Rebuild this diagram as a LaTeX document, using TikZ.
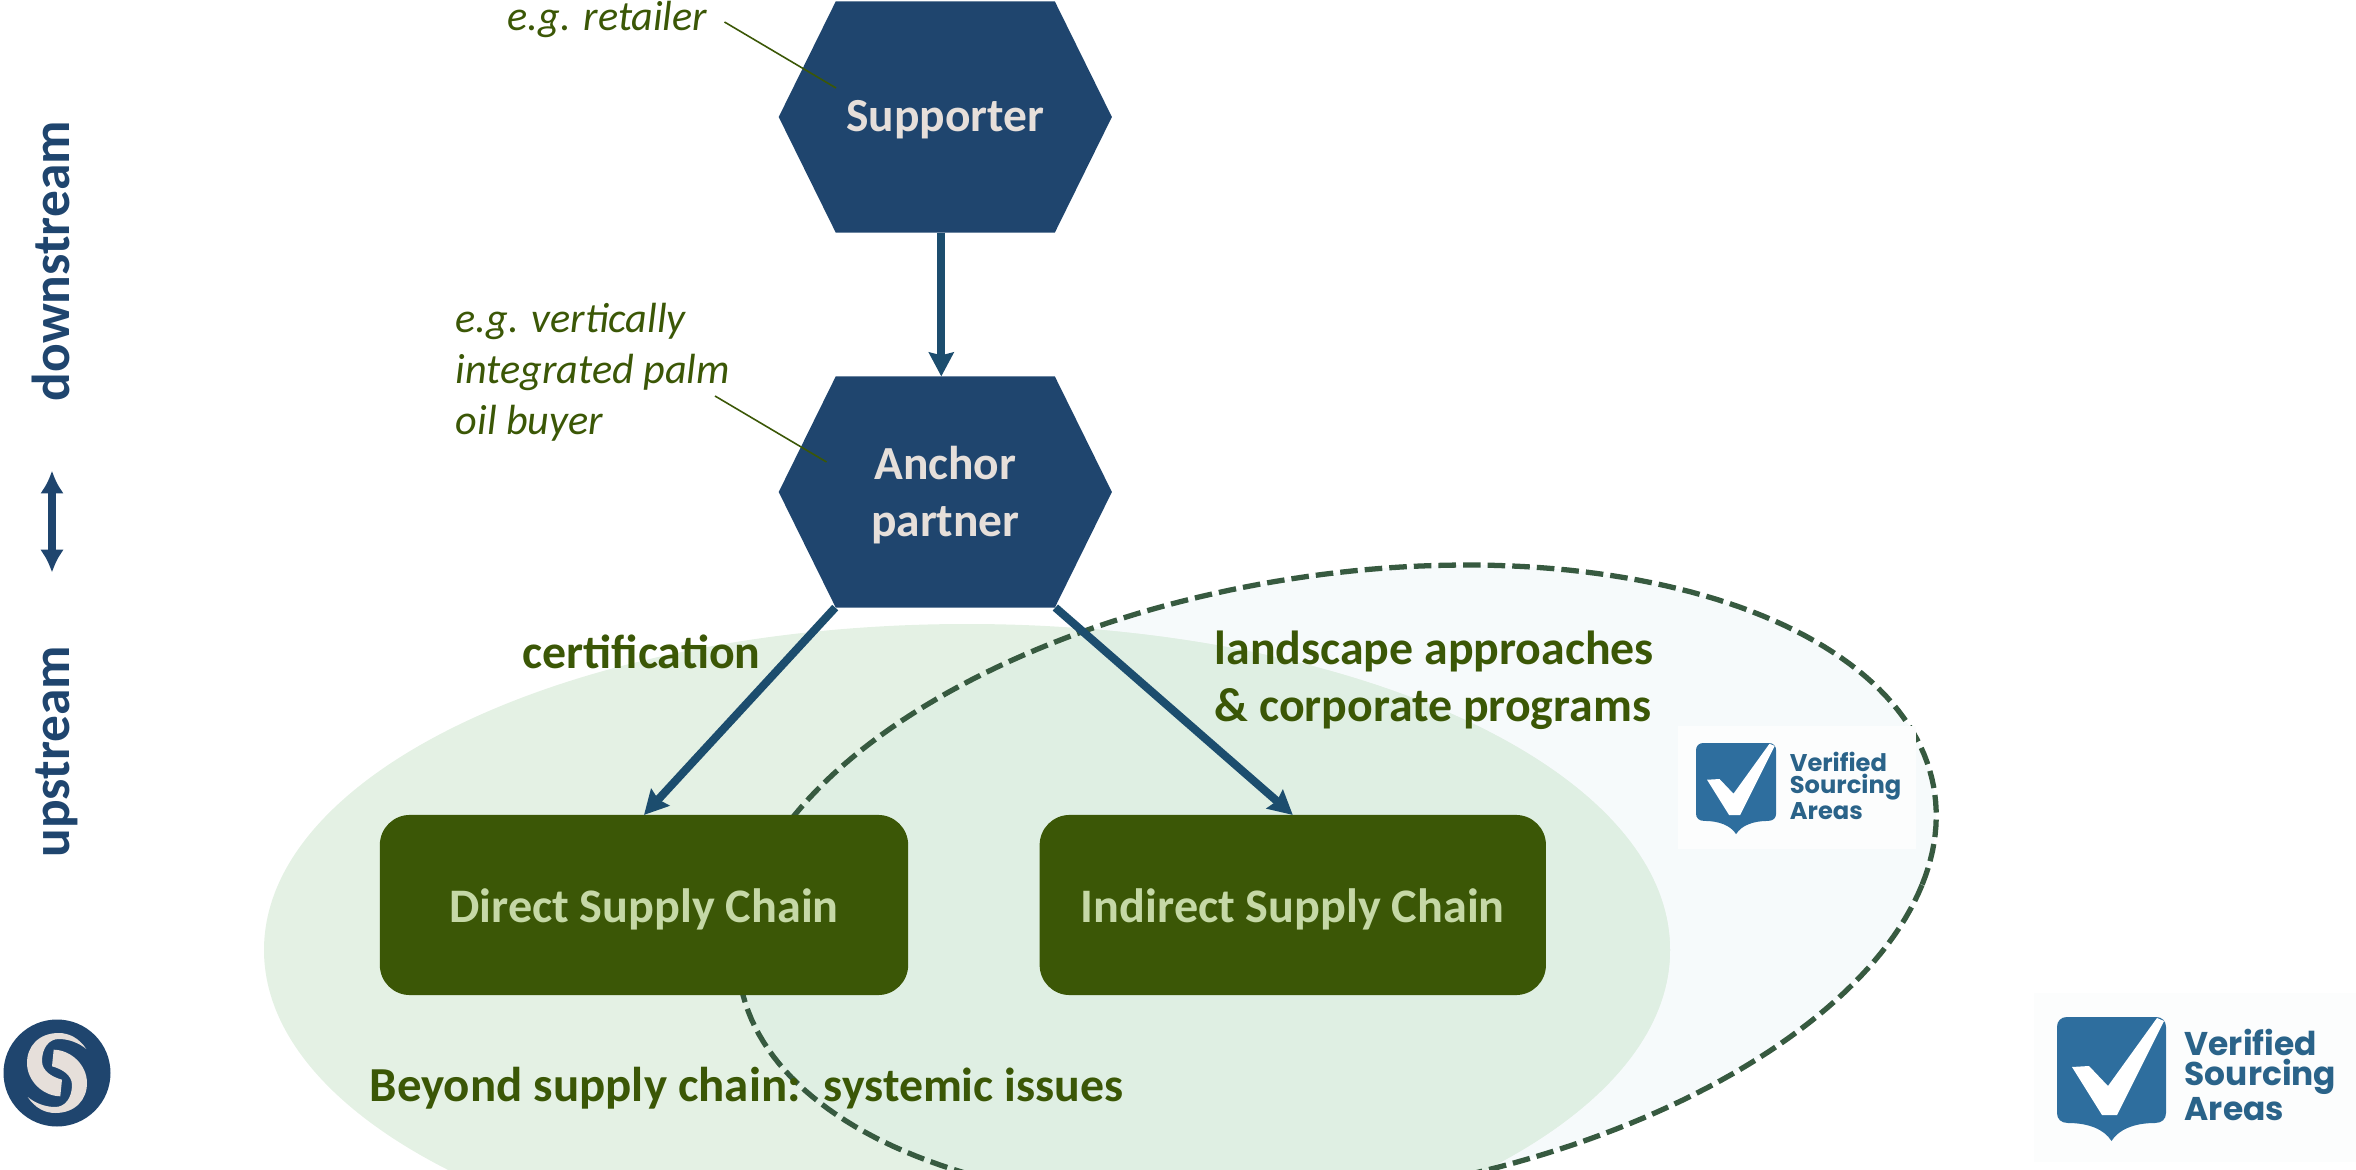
\documentclass[tikz,border=0pt]{standalone}
\usepackage{fontspec}
\setmainfont{Carlito}
\newfontfamily\logofont{Poppins}
\usetikzlibrary{arrows.meta}
\definecolor{navy}{HTML}{1F456E}
\definecolor{linkblue}{HTML}{1C4D6E}
\definecolor{olive}{HTML}{3B5706}
\definecolor{palegreen}{HTML}{C5D8A6}
\definecolor{bone}{HTML}{E6DFDA}
\definecolor{dashgreen}{HTML}{375A40}
\definecolor{beyondfill}{HTML}{E4F1E4}
\definecolor{vsafill}{HTML}{F6FAFB}
\definecolor{bothfill}{HTML}{DFEFE3}
\definecolor{shieldblue}{HTML}{2E6E9E}
\definecolor{logotext}{HTML}{2A6389}
\definecolor{logoback}{HTML}{FCFDFD}
\tikzset{
	hexa/.style={rectangle,minimum width=3.33cm,minimum height=2.31cm,inner sep=0pt,outer sep=0pt,text=bone,align=center,font=\fontsize{13.5}{16.2}\selectfont\bfseries,
		path picture={\fill[navy] (path picture bounding box.west)--([xshift=0.57cm]path picture bounding box.north west)--([xshift=-0.57cm]path picture bounding box.north east)--(path picture bounding box.east)--([xshift=-0.57cm]path picture bounding box.south east)--([xshift=0.57cm]path picture bounding box.south west)--cycle;}},
	chainbox/.style={rectangle,rounded corners=0.3cm,minimum height=1.8cm,inner sep=0pt,outer sep=0pt,fill=olive,text=palegreen,font=\fontsize{13.7}{16}\selectfont\bfseries,text height=9.7pt,text depth=0pt},
	note/.style={inner sep=0pt,text=olive,align=left,font=\fontsize{12}{14.5}\selectfont\itshape},
	lbl/.style={inner sep=0pt,text=olive,align=left,font=\fontsize{13.6}{16.3}\selectfont\bfseries},
	sidelbl/.style={inner sep=0pt,text=navy,rotate=90,font=\fontsize{15.2}{19}\selectfont\bfseries},
	link/.style={-{Stealth[length=6.8pt,width=7pt,inset=0.8pt]},line width=2.3pt,color=linkblue},
}
\begin{document}
\begin{tikzpicture}[x=0.01cm,y=-0.01cm,line join=round]
	\def\dashed{plot[domain=0:360,samples=240] ({1337+585*cos(\x)-130*sin(\x)},{885+320*sin(\x)})}
	\clip (0,0) rectangle (2356,1170);
	% ellipses
	\fill[vsafill] \dashed--cycle;
	\fill[beyondfill] (967,950) ellipse (703 and 326);
	\begin{scope}
		\clip (967,950) ellipse (703 and 326);
		\fill[bothfill] \dashed--cycle;
	\end{scope}
	\draw[dashgreen,line width=1.5pt,dash pattern=on 5pt off 2pt] \dashed--cycle;
	% logo backgrounds
	\fill[logoback] (1678,726) rectangle (1916,849);
	\fill[logoback] (2034,993) rectangle (2356,1162);
	% nodes
	\node[hexa,text height=8.5pt,text depth=0pt] (supporter) at (945.3,117) {Supporter};
	\node[hexa] (anchor) at (945.3,492) {Anchor\rule{0pt}{11.2pt}\\partner};
	\node[chainbox,minimum width=5.28cm] (direct) at (644,905) {Direct Supply Chain};
	\node[chainbox,minimum width=5.06cm] (indirect) at (1292.8,905) {Indirect Supply Chain};
	\draw[link] ([xshift=-0.04cm]supporter.south)--([xshift=-0.04cm]anchor.north);
	\draw[link] ([xshift=-1.1cm]anchor.south)--(direct.north);
	\draw[link] ([xshift=1.1cm]anchor.south)--(indirect.north);
	% notes
	\node[note,anchor=base west] (retailer) at (507,31) {e.g. retailer};
	\node[note,anchor=west] (palmbuyer) at (455,372) {e.g. vertically\\integrated palm\\oil buyer};
	\coordinate (retailerend) at (724.5,22);
	\coordinate (retailertip) at (836,88);
	\coordinate (palmend) at (715,396);
	\coordinate (palmtip) at (826.5,462);
	\draw[olive,line width=0.45pt] (retailerend)--(retailertip);
	\draw[olive,line width=0.45pt] (palmend)--(palmtip);
	% labels
	\node[lbl,anchor=base west] (certification) at (522,668) {certification};
	\node[lbl,anchor=west] (landscape) at (1214,680) {landscape approaches\\\& corporate programs};
	\node[lbl,anchor=base west,font=\fontsize{13.9}{16.3}\selectfont\bfseries] (beyond) at (369,1101) {Beyond supply chain:};
	\node[lbl,anchor=base west] (systemic) at (823,1101) {systemic issues};
	% left side
	\node[sidelbl,anchor=base west] (downstream) at (70,402) {downstream};
	\node[sidelbl,anchor=base west] (upstream) at (70,858) {upstream};
	\coordinate (arrowtop) at (52,470.6);
	\coordinate (arrowbottom) at (52,572.6);
	\draw[{Latex[length=6.5pt,width=6.8pt]}-{Latex[length=6.5pt,width=6.8pt]},navy,line width=2.4pt] (arrowtop)--(arrowbottom);
	% round mark
	\fill[navy] (57,1073) circle (53.5);
	\foreach \r in {0,180}
		\fill[bone,shift={(57,1073)},rotate=\r] (29.3,-24) .. controls (22,-35) and (12,-40) .. (1.7,-40) .. controls (-18,-40) and (-30,-27) .. (-30,-10) .. controls (-30,8) and (-14,23) .. (3.3,23.3) -- (5,6.7) .. controls (-5,4) and (-15,-2) .. (-15,-12) .. controls (-15,-25) and (-8,-34) .. (1.7,-34) .. controls (12,-34) and (22,-30) .. (29.3,-24) -- cycle;
	% shield logos
	\foreach \px/\py/\s/\nm in {1696/743/0.735/vsasmall,2057/1017/1/vsalarge}
	{
		\begin{scope}[shift={(\px,\py)},scale=\s]
			\fill[shieldblue] (0,10) .. controls (0,4) and (4,0) .. (10,0) -- (99,0) .. controls (105,0) and (109,4) .. (109,10) -- (109,96) .. controls (109,102) and (105,106) .. (98,106) .. controls (78,106) and (62,112) .. (54.5,124) .. controls (47,112) and (31,106) .. (11,106) .. controls (4,106) and (0,102) .. (0,96) -- cycle;
			\fill[white] (15,50) -- (32,49) -- (51,69) -- (100,1) -- (107,4) -- (60,98) -- (45,98) -- cycle;
			\node[transform shape,anchor=west,inner sep=0pt,text=logotext,align=left,font=\logofont\fontsize{9.35}{8.5}\selectfont\bfseries] (\nm) at (127,58) {Verified\\Sourcing\\Areas};
		\end{scope}
	}
\end{tikzpicture}
\end{document}
